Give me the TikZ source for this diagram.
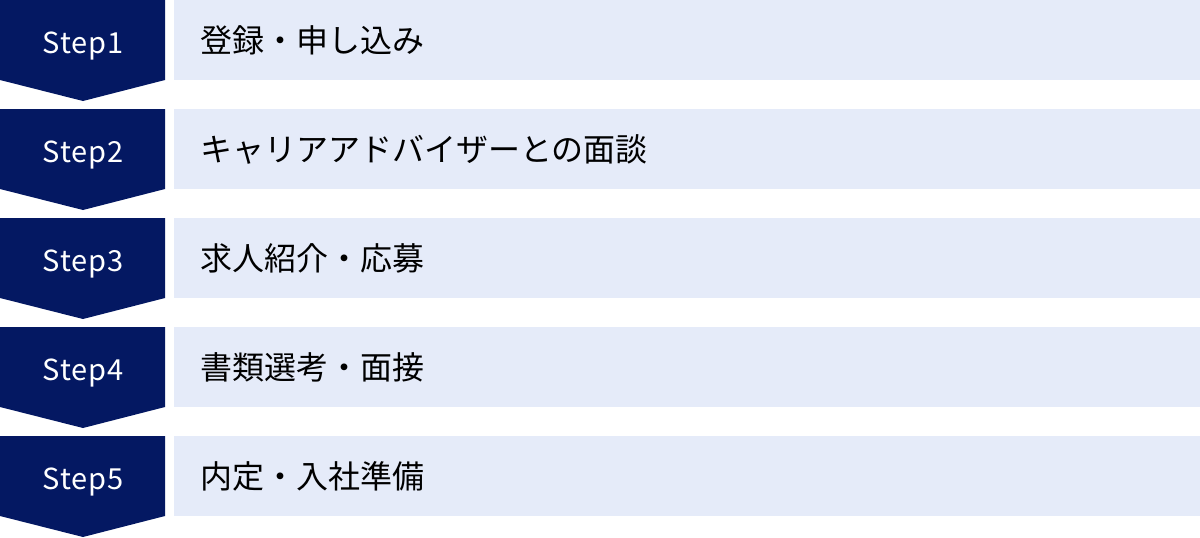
\documentclass[tikz,border=0pt]{standalone}
\usepackage{fontspec}
\setmainfont{Noto Sans CJK JP}
\newfontfamily\stepfont[LetterSpace=3]{Noto Sans CJK JP}
\definecolor{navy}{RGB}{4,24,98}
\definecolor{pale}{RGB}{229,235,249}
\begin{document}
\begin{tikzpicture}[x=1pt,y=-1pt,
  stepshape/.style={fill=navy,draw=none},
  barshape/.style={fill=pale,draw=none},
  steplabel/.style={text=white,font=\stepfont\fontsize{29}{32}\selectfont,inner sep=0pt,anchor=base},
  barlabel/.style={text=black,font=\fontsize{32}{36}\selectfont,inner sep=0pt,anchor=west}]
\useasboundingbox (0,0) rectangle (1200,538);
\foreach \i/\t in {1/登録・申し込み,2/キャリアアドバイザーとの面談,3/求人紹介・応募,4/書類選考・面接,5/内定・入社準備}{
  \pgfmathsetmacro{\y}{(\i-1)*109}
  \fill[stepshape] (0,\y) -- (165,\y) -- (165,\y+80) -- (83,\y+101) -- (0,\y+80) -- cycle;
  \fill[barshape] (174,\y) rectangle (1200,\y+80);
  \node[steplabel] (s\i) at (83,\y+53) {Step\i};
  \node[barlabel] (b\i) at (200,\y+40) {\t};
}
\end{tikzpicture}
\end{document}
